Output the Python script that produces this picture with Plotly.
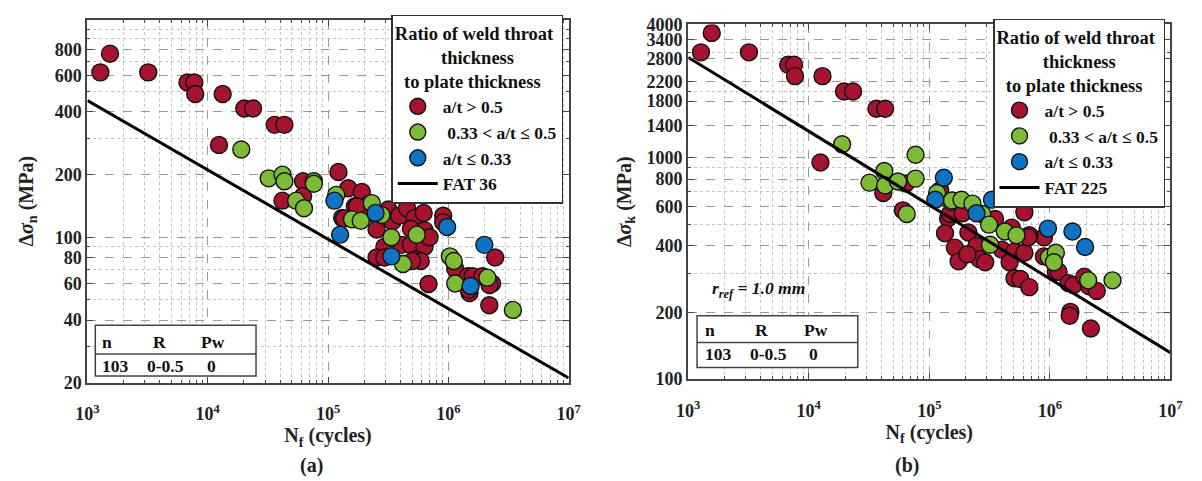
import plotly.graph_objects as go

W, H = 1202, 481

# ---------------- data ----------------
# Panel (a): nominal stress range vs cycles
a_red_N = [1280, 1540, 3200, 6780, 7730, 7870, 13300, 20100, 23800, 36000, 43400, 12400,
           41800, 62000, 62000, 122000, 131000, 147000, 191000, 167000, 218000, 136000,
           253000, 317000, 342000, 390000, 453000, 526000, 623000, 488000, 294000, 412000,
           488000, 634000, 253000, 294000, 535000, 589000, 500000, 634000, 697000, 684000,
           906000, 906000, 2450000, 1140000, 1450000, 1590000, 1920000, 2310000, 2200000,
           1500000, 1480000, 2190000, 215000, 174000]
a_red_S = [620, 762, 620, 554, 554, 488, 488, 416, 416, 347, 347, 278,
           150, 186, 158, 206, 124, 172, 165, 141, 144, 123,
           109, 136, 119, 127, 138, 124, 131, 110, 90, 92,
           92, 90, 80, 80, 78.5, 77, 77, 108, 100, 59.7,
           127, 118, 80, 70.7, 65, 65, 65, 60, 59,
           54, 56, 47.2, 130, 141]
a_green_N = [19000, 32100, 41800, 43400, 54300, 63100, 76200, 76200, 117000, 158000, 187000,
             231000, 278000, 336000, 546000, 420000, 1030000, 1110000, 2110000, 1140000, 3440000]
a_green_S = [264, 192, 200, 186, 150, 138, 186, 181, 160, 122, 120,
             146, 128, 100, 103, 74.5, 81, 77, 64, 60, 44.8]
a_blue_N = [113000, 126000, 248000, 336000, 977000, 1990000, 1530000]
a_blue_S = [150, 103, 131, 81, 112, 92, 58.4]
a_fat_N = [1e3, 1e7]
a_fat_S = [454, 21.1]

# Panel (b): notch stress range vs cycles
b_red_N = [1276, 1567, 3190, 6750, 7550, 7690, 13000, 19600, 23300, 36400, 43000, 12500,
           41500, 63800, 60300, 123000, 143000, 135000, 148000, 189000, 351000, 615000,
           893000, 211000, 482000, 675000, 246000, 260000, 291000, 400000, 509000, 615000,
           464000, 662000, 893000, 1120000, 1180000, 509000, 570000, 675000, 1430000,
           1570000, 1930000, 2110000, 2450000, 1480000, 1460000, 2190000, 163000, 175000,
           207000]
b_red_S = [2990, 3660, 2990, 2630, 2630, 2335, 2335, 1990, 1990, 1663, 1663, 951,
           692, 764, 578, 713, 533, 455, 556, 561, 528, 566,
           437, 459, 483, 446, 400, 348, 337, 384, 377, 372,
           337, 437, 358, 305, 305, 285, 283, 260, 271,
           266, 290, 263, 250, 201, 193, 169, 392, 340,
           366]
b_green_N = [18900, 31900, 42300, 43000, 55000, 76900, 76900, 116000, 151000, 65000, 154000,
             185000, 228000, 275000, 313000, 423000, 529000, 319000, 982000, 1120000,
             1080000, 2080000, 3310000]
b_green_S = [1150, 771, 870, 748, 780, 1030, 804, 692, 632, 556, 640,
             645, 620, 556, 498, 464, 446, 404, 355, 372,
             337, 279, 279]
b_blue_N = [132000, 112000, 331000, 246000, 964000, 1540000, 1960000]
b_blue_S = [811, 645, 645, 561, 478, 464, 395]
b_fat_N = [1e3, 1e7]
b_fat_S = [2835, 131.6]

x_ticks = [1e3, 1e4, 1e5, 1e6, 1e7]
x_ticktext = ["<b>10<sup>3</sup></b>", "<b>10<sup>4</sup></b>", "<b>10<sup>5</sup></b>",
              "<b>10<sup>6</sup></b>", "<b>10<sup>7</sup></b>"]
x_minor = [m * 10 ** e for e in range(3, 7) for m in range(2, 10)]
a_y_ticks = [20, 40, 60, 80, 100, 200, 400, 600, 800]
a_y_minor = [30, 50, 70, 90, 300, 500, 700, 900, 1000]
b_y_ticks = [100, 200, 400, 600, 800, 1000, 1400, 1800, 2200, 2800, 3400, 4000]
b_y_minor = [300, 500, 700, 900, 2000, 3000]

RED, GREEN, BLUE = "#A6132E", "#7DBA36", "#0F73C3"
FONT = "Liberation Serif"

def px(x):
    return x / W

def py(y):
    return 1 - y / H

def b(t):
    return "<b>" + t + "</b>"

fig = go.Figure()

def add_panel(xa, ya, leg, red, green, blue, fat, fatname):
    mk = dict(size=17, line=dict(color="#111", width=1.4))
    for (N, S), col, name in [(red, RED, "a/t > 0.5"),
                              (green, GREEN, " 0.33 < a/t \u2264 0.5"),
                              (blue, BLUE, "a/t \u2264 0.33")]:
        fig.add_trace(go.Scatter(x=N, y=S, mode="markers", name=b(name), legend=leg,
                                 marker=dict(color=col, **mk), xaxis=xa, yaxis=ya))
    fig.add_trace(go.Scatter(x=fat[0], y=fat[1], mode="lines", name=b(fatname), legend=leg,
                             line=dict(color="black", width=3), xaxis=xa, yaxis=ya))

add_panel("x", "y", "legend", (a_red_N, a_red_S), (a_green_N, a_green_S),
          (a_blue_N, a_blue_S), (a_fat_N, a_fat_S), "FAT 36")
add_panel("x2", "y2", "legend2", (b_red_N, b_red_S), (b_green_N, b_green_S),
          (b_blue_N, b_blue_S), (b_fat_N, b_fat_S), "FAT 225")

titlefont = dict(family=FONT, size=20, color="#222")

def axis_common():
    return dict(type="log", showline=True, linecolor="#444", linewidth=2, mirror="ticks",
                ticks="inside", ticklen=6, tickwidth=1.2, tickcolor="#444",
                showgrid=True, gridcolor="#9a9a9a", griddash="dash", gridwidth=1,
                zeroline=False, tickfont=dict(family=FONT, size=18, color="#222"),
                minor=dict(ticks="inside", ticklen=3, tickcolor="#444", showgrid=True,
                           gridcolor="#c4c4c4", griddash="dot", gridwidth=1))

xa = axis_common()
xa.update(domain=[px(77), px(568)], range=[3, 7], tickvals=x_ticks, ticktext=x_ticktext,
          anchor="y", ticklabelstandoff=14,
          title=dict(text=b("N<sub>f</sub> (cycles)"), font=titlefont, standoff=0))
xa["minor"]["tickvals"] = x_minor
ya = axis_common()
ya.update(domain=[py(389), py(10)], range=[1.30103, 3.046], tickvals=a_y_ticks,
          ticktext=[b(str(v)) for v in a_y_ticks],
          anchor="x", title=dict(text=b("\u0394<i>\u03c3</i><sub>n</sub> (MPa)"), font=titlefont, standoff=16))
ya["minor"]["tickvals"] = a_y_minor

xb = axis_common()
xb.update(domain=[px(690), px(1182)], range=[3, 7], tickvals=x_ticks, ticktext=x_ticktext,
          anchor="y2", ticklabelstandoff=14,
          title=dict(text=b("N<sub>f</sub> (cycles)"), font=titlefont, standoff=0))
xb["minor"]["tickvals"] = x_minor
yb = axis_common()
yb.update(domain=[py(385), py(15)], range=[2, 3.60206], tickvals=b_y_ticks,
          ticktext=[b(str(v)) for v in b_y_ticks],
          anchor="x2", title=dict(text=b("\u0394<i>\u03c3</i><sub>k</sub> (MPa)"), font=titlefont, standoff=10))
yb["minor"]["tickvals"] = b_y_minor

legfont = dict(family=FONT, size=17.5, color="#111")
legtitle = b("Ratio of weld throat<br>          thickness<br>  to plate thickness")

def legend_cfg(x, y):
    return dict(x=px(x), y=py(y), xanchor="left", yanchor="top", bgcolor="white",
                bordercolor="#333", borderwidth=1.5, font=legfont, tracegroupgap=0,
                itemsizing="trace", itemwidth=40,
                title=dict(text=legtitle, font=dict(family=FONT, size=18.5, color="#111")))

shapes = []
annots = []

def table(x0, x1, y0, ysep, y1, cols_x, row1_y, row2_y, vals_x):
    shapes.append(dict(type="rect", xref="paper", yref="paper", x0=px(x0), x1=px(x1),
                       y0=py(y1), y1=py(y0), line=dict(color="#444", width=1.5),
                       fillcolor="white", layer="above"))
    shapes.append(dict(type="line", xref="paper", yref="paper", x0=px(x0), x1=px(x1),
                       y0=py(ysep), y1=py(ysep), line=dict(color="#444", width=1.5), layer="above"))
    for t, xx in zip(["n", "R", "Pw"], cols_x):
        annots.append(dict(text=b(t), x=px(xx), y=py(row1_y), xref="paper", yref="paper",
                           showarrow=False, font=legfont, xanchor="center", yanchor="middle"))
    for t, xx in zip(["103", "0-0.5", "0"], vals_x):
        annots.append(dict(text=b(t), x=px(xx), y=py(row2_y), xref="paper", yref="paper",
                           showarrow=False, font=legfont, xanchor="center", yanchor="middle"))

table(85, 249, 329, 359, 382, [97, 151, 205], 346, 371, [106, 157, 204])
table(699, 863, 319, 347, 373, [712, 765, 820], 334, 359, [721, 772, 818])

annots.append(dict(text=b("<i>r<sub>ref</sub> = 1.0 mm</i>"), x=px(712), y=py(292), xref="paper",
                   yref="paper", showarrow=False, xanchor="left", yanchor="middle", font=legfont))
annots.append(dict(text=b("(a)"), x=px(306), y=py(475), xref="paper", yref="paper", showarrow=False,
                   font=titlefont, xanchor="center", yanchor="middle"))
annots.append(dict(text=b("(b)"), x=px(913), y=py(475), xref="paper", yref="paper", showarrow=False,
                   font=titlefont, xanchor="center", yanchor="middle"))

fig.update_layout(width=W, height=H, margin=dict(l=0, r=0, t=0, b=0),
                  paper_bgcolor="white", plot_bgcolor="white",
                  font=dict(family=FONT),
                  xaxis=xa, yaxis=ya, xaxis2=xb, yaxis2=yb,
                  legend=legend_cfg(387, 5), legend2=legend_cfg(1001, 9),
                  shapes=shapes, annotations=annots, showlegend=True)

fig.write_html("out.html")
